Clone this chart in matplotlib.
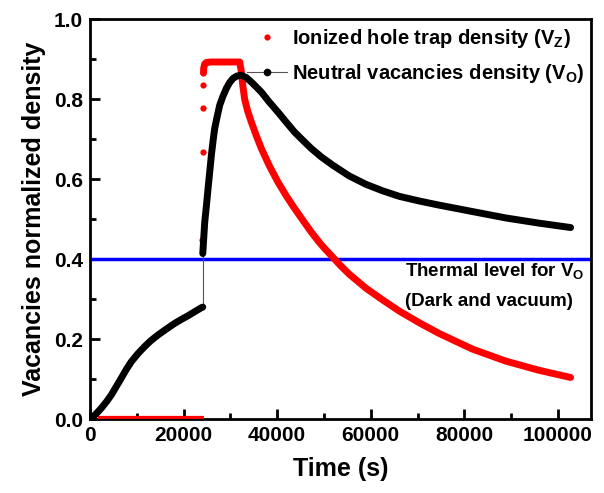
import matplotlib
matplotlib.use("Agg")
from matplotlib import pyplot as plt
from matplotlib.lines import Line2D
from matplotlib.ticker import MultipleLocator, FormatStrFormatter

# Valores
# Vo (negro): tramo inicial en oscuridad
t_vo_1 = [0, 280, 1300, 2400, 3500, 4540, 5600, 6670, 7700, 8800, 10200, 11650, 13000, 14500,
          16300, 18050, 19500, 20890, 22300, 23730, 24100]
vo_1 = [0.0, 0.002, 0.013, 0.027, 0.043, 0.06, 0.081, 0.102, 0.123, 0.143, 0.163, 0.181, 0.196, 0.21,
        0.225, 0.239, 0.249, 0.258, 0.268, 0.278, 0.28]

# Vo (negro): subida bajo iluminacion y relajacion
t_vo_2 = [24100, 24520, 24900, 25230, 25600, 25940, 26300, 26650, 27200, 27720, 28400, 29140, 29800,
          30560, 31400, 32340, 33400, 34470, 35500, 36600, 38300, 40150, 41900, 43700, 45500, 47260,
          49500, 51870, 55400, 58990, 62500, 66100, 70500, 74620, 81720, 88840, 95940, 102700]
vo_2 = [0.414, 0.493, 0.536, 0.577, 0.62, 0.66, 0.696, 0.727, 0.758, 0.785, 0.807, 0.827, 0.841,
        0.852, 0.858, 0.86, 0.854, 0.843, 0.831, 0.818, 0.793, 0.768, 0.743, 0.718, 0.697, 0.677,
        0.655, 0.635, 0.608, 0.587, 0.571, 0.557, 0.545, 0.535, 0.519, 0.503, 0.490, 0.479]

# Vz (rojo)
t_vz_0 = [1700, 24300]
vz_0 = [0.0, 0.0]
t_vz_sube = [24000, 24150, 24200, 24250]
vz_sube = [0.4475, 0.668, 0.778, 0.835]
t_vz_1 = [24250, 24300, 24500, 24900, 26000, 28000, 30000, 32000, 32340, 32700, 33050, 33700, 34470,
          35500, 36600, 38300, 40150, 41900, 43700, 45500, 47260, 49000, 50100, 51870, 53600, 55430,
          59000, 62530, 66100, 70500, 74620, 81720, 88840, 95940, 102700]
vz_1 = [0.865, 0.878, 0.888, 0.892, 0.893, 0.893, 0.893, 0.893, 0.868, 0.83, 0.80, 0.77, 0.743,
        0.71, 0.677, 0.634, 0.593, 0.559, 0.527, 0.497, 0.468, 0.442, 0.427, 0.405, 0.383, 0.362,
        0.327, 0.298, 0.27, 0.24, 0.214, 0.175, 0.145, 0.122, 0.104]

nivel_termico = 0.40

plt.rcParams['font.family'] = ['Liberation Sans', 'DejaVu Sans']
plt.rcParams['font.weight'] = 'bold'
plt.rcParams['axes.labelweight'] = 'bold'
plt.rcParams['mathtext.fontset'] = 'custom'
plt.rcParams['mathtext.rm'] = 'Liberation Sans:bold'
plt.rcParams['mathtext.bf'] = 'Liberation Sans:bold'
plt.rcParams['mathtext.default'] = 'bf'

fig = plt.figure(figsize=(6.04, 4.93), dpi=100)
ax = fig.add_axes([0.149, 0.150, 0.829, 0.811])

ax.axhline(nivel_termico, color='#0000ff', lw=2.5, zorder=2)

# rojo
ax.plot(t_vz_0, vz_0, color='#ff0000', lw=4.5, solid_capstyle='butt', zorder=3)
ax.plot(t_vz_sube, vz_sube, 'o', color='#ff0000', ms=4.5, mec='none', zorder=3)
ax.plot(t_vz_1, vz_1, color='#ff0000', lw=5, solid_capstyle='round', solid_joinstyle='round', zorder=3)

# negro
ax.plot([t_vo_1[-1], t_vo_2[0]], [vo_1[-1], vo_2[0]], color='#555555', lw=0.8, zorder=4)
ax.plot(t_vo_1, vo_1, color='black', lw=5, solid_capstyle='round', solid_joinstyle='round', zorder=4)
ax.plot(t_vo_2, vo_2, color='black', lw=5, solid_capstyle='round', solid_joinstyle='round', zorder=4)

ax.text(67300, 0.37, r'Thermal level for V$_O$', fontsize=13.5, fontweight='bold', va='center', ha='left')
ax.text(67300, 0.293, '(Dark and vacuum)', fontsize=13.5, fontweight='bold', va='center', ha='left')

h1 = Line2D([], [], ls='none', marker='o', color='#ff0000', ms=4.5, mec='none')
h2 = Line2D([], [], ls='-', lw=0.8, color='#555555', marker='o', mfc='black', mec='black', ms=4.5)
ax.legend([h1, h2], [r'Ionized hole trap density (V$_Z$)', r'Neutral vacancies density (V$_O$)'],
          loc='upper left', bbox_to_anchor=(0.277, 1.026), frameon=False,
          prop={'size': 14.5, 'weight': 'bold'},
          handlelength=2.0, labelspacing=0.6, handletextpad=0.25)

ax.set_xlim(0, 107000)
ax.set_ylim(0, 1.0)
ax.xaxis.set_major_locator(MultipleLocator(20000))
ax.xaxis.set_minor_locator(MultipleLocator(10000))
ax.yaxis.set_major_locator(MultipleLocator(0.2))
ax.yaxis.set_minor_locator(MultipleLocator(0.1))
ax.yaxis.set_major_formatter(FormatStrFormatter('%.1f'))
ax.tick_params(which='major', direction='in', length=7, width=2, labelsize=15, pad=5)
ax.tick_params(which='minor', direction='in', length=4, width=2)
for lab in ax.get_xticklabels() + ax.get_yticklabels():
    lab.set_fontweight('bold')
for s in ax.spines.values():
    s.set_linewidth(2)

ax.set_xlabel('Time (s)', fontsize=18, fontweight='bold', labelpad=9)
ax.set_ylabel('Vacancies normalized density', fontsize=18, fontweight='bold', labelpad=6)

fig.savefig('out.png', dpi=100)
